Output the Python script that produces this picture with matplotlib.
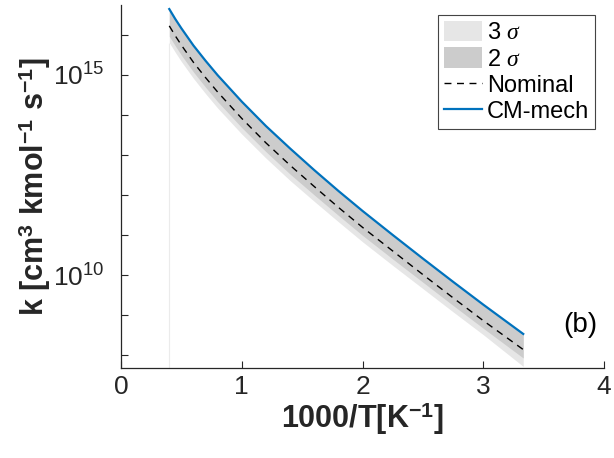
import matplotlib
matplotlib.use("Agg")
import matplotlib.pyplot as plt
import numpy as np
from matplotlib.ticker import FixedLocator, LogFormatterSciNotation, NullFormatter
from matplotlib.patches import Patch
from matplotlib.lines import Line2D

plt.rcParams['font.family'] = ['Liberation Sans', 'DejaVu Sans']
plt.rcParams['mathtext.fontset'] = 'custom'
plt.rcParams['mathtext.rm'] = 'Liberation Sans'
plt.rcParams['mathtext.it'] = 'Liberation Serif:italic'
plt.rcParams['mathtext.bf'] = 'Liberation Sans:bold'

# 1000/T [1/K]
inv_T = [0.40, 0.45, 0.50, 0.60, 0.70, 0.80, 1.00, 1.20, 1.40, 1.60, 1.80, 2.00, 2.25, 2.50, 2.75, 3.00, 3.33]

# log10 k
log_k_cm = [16.64, 16.39, 16.16, 15.73, 15.35, 14.99, 14.33, 13.72, 13.16, 12.62, 12.10, 11.60, 11.00, 10.41, 9.83, 9.26, 8.53]
log_k_nom = [16.22, 15.97, 15.74, 15.31, 14.93, 14.57, 13.91, 13.30, 12.74, 12.21, 11.69, 11.19, 10.60, 10.01, 9.43, 8.86, 8.14]
log_2s_lo = [15.96, 15.72, 15.49, 15.07, 14.69, 14.33, 13.68, 13.08, 12.52, 12.00, 11.49, 10.99, 10.40, 9.82, 9.24, 8.67, 7.93]
log_2s_hi = [16.62, 16.37, 16.14, 15.71, 15.33, 14.97, 14.31, 13.70, 13.14, 12.60, 12.08, 11.58, 10.98, 10.39, 9.81, 9.24, 8.51]
log_3s_lo = [15.80, 15.56, 15.33, 14.91, 14.53, 14.17, 13.52, 12.92, 12.36, 11.84, 11.33, 10.83, 10.24, 9.66, 9.08, 8.51, 7.72]
log_3s_hi = [16.64, 16.39, 16.16, 15.73, 15.35, 14.99, 14.33, 13.72, 13.16, 12.62, 12.10, 11.60, 11.00, 10.41, 9.83, 9.26, 8.53]

x = np.array(inv_T)
k_cm = 10 ** np.array(log_k_cm)
k_nom = 10 ** np.array(log_k_nom)

light = '#e6e6e6'
dark = '#cccccc'
blue = '#0072bd'
axcol = '#262626'

fig = plt.figure(figsize=(6.14, 4.58), dpi=100)
ax = fig.add_axes([0.197, 0.1965, 0.787, 0.7925])

y_lo, y_hi = 10 ** 7.68, 10 ** 16.74

ax.fill_between(x, 10 ** np.array(log_3s_lo), 10 ** np.array(log_3s_hi), color=light, lw=0)
ax.fill_between(x, 10 ** np.array(log_2s_lo), 10 ** np.array(log_2s_hi), color=dark, lw=0)
ax.vlines(x[0], y_lo, 10 ** log_3s_lo[0], color='#ebebeb', lw=0.8)
ax.plot(x, k_nom, '--', color='black', lw=1.0, dashes=(5, 4))
ax.plot(x, k_cm, '-', color=blue, lw=1.6)

ax.set_yscale('log')
ax.set_xlim(0, 4)
ax.set_ylim(y_lo, y_hi)
ax.xaxis.set_major_locator(FixedLocator([0, 1, 2, 3, 4]))
ax.yaxis.set_major_locator(FixedLocator([1e10, 1e15]))
ax.yaxis.set_major_formatter(LogFormatterSciNotation())
ax.yaxis.set_minor_locator(FixedLocator([10.0 ** e for e in range(7, 18)]))
ax.yaxis.set_minor_formatter(NullFormatter())

for s in ['top', 'right']:
    ax.spines[s].set_visible(False)
for s in ['left', 'bottom']:
    ax.spines[s].set_color(axcol)
    ax.spines[s].set_linewidth(0.9)
ax.tick_params(which='both', direction='in', colors=axcol, labelsize=19, width=0.8)
ax.tick_params(which='major', length=5)
ax.tick_params(which='minor', length=5)
ax.tick_params(axis='x', pad=5)
ax.tick_params(axis='y', pad=12)

ax.set_xlabel(r'1000/T[K$^{\mathbf{-1}}$]', fontsize=22, fontweight='bold', color=axcol, labelpad=1)
ax.set_ylabel(r'k [cm$^{\mathbf{3}}$ kmol$^{\mathbf{-1}}$ s$^{\mathbf{-1}}$]', fontsize=22,
              fontweight='bold', color=axcol, labelpad=0)

ax.text(0.95, 0.118, '(b)', transform=ax.transAxes, fontsize=20, ha='center', va='center', color='black')

handles = [Patch(facecolor=light, edgecolor='none'),
           Patch(facecolor=dark, edgecolor='none'),
           Line2D([], [], color='black', ls='--', lw=1.0, dashes=(5, 4)),
           Line2D([], [], color=blue, lw=1.6)]
labels = [r'3 $\it{\sigma}$', r'2 $\it{\sigma}$', 'Nominal', 'CM-mech']
leg = ax.legend(handles, labels, loc='upper right', bbox_to_anchor=(0.981, 0.972), fontsize=17,
                frameon=True, fancybox=False, framealpha=1, edgecolor='#444444', borderaxespad=0,
                handlelength=1.6, handleheight=0.95, handletextpad=0.2, labelspacing=0.12, borderpad=0.25)
leg.get_frame().set_linewidth(0.8)

fig.savefig('out.png', dpi=100)
